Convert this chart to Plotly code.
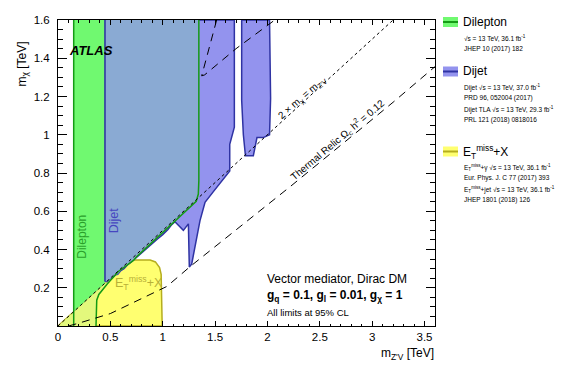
import plotly.graph_objects as go

# ---- values ----
# dilepton exclusion contour (green line), bottom to top
dilep_x = [0.363, 0.365, 0.37, 0.39, 0.47, 0.576, 0.65, 0.72, 0.75, 0.85, 1.0, 1.1, 1.2, 1.32, 1.34, 1.345, 1.345]
dilep_y = [0.0, 0.10, 0.135, 0.165, 0.22, 0.285, 0.315, 0.343, 0.362, 0.413, 0.488, 0.538, 0.588, 0.652, 0.69, 0.76, 1.6]
dilep_left = 0.15

# dijet exclusion: jagged lower edge near the diagonal, then the spike
dijet_jag_x = [0.45, 0.47, 0.49, 0.52, 0.55, 0.57, 0.60, 0.63, 0.66, 0.70, 0.72, 0.75, 0.80, 0.85, 0.90, 0.95, 1.0, 1.05, 1.086]
dijet_jag_y = [0.235, 0.232, 0.245, 0.252, 0.268, 0.27, 0.29, 0.30, 0.318, 0.335, 0.345, 0.355, 0.38, 0.405, 0.432, 0.455, 0.478, 0.505, 0.53]
dijet_spike_x = [1.117, 1.197, 1.245, 1.254, 1.277, 1.356, 1.404, 1.48, 1.64, 1.64, 1.684, 1.684]
dijet_spike_y = [0.545, 0.50, 0.534, 0.308, 0.325, 0.551, 0.647, 0.70, 0.81, 0.95, 1.04, 1.6]
dijet_left = 0.45

# second dijet island (TLA)
tla_x = [1.754, 1.754, 1.77, 1.79, 1.865, 1.90, 1.96, 2.02, 2.03, 2.02]
tla_y = [1.6, 1.18, 1.0, 0.89, 0.89, 0.985, 0.985, 1.0, 1.19, 1.6]

# E_T^miss + X exclusion
met_x = [0.0, 0.66, 0.69, 0.72, 0.88, 0.93, 0.97, 0.985, 0.99, 0.995]
met_y = [0.0, 0.33, 0.34, 0.345, 0.345, 0.335, 0.305, 0.27, 0.15, 0.0]

# thermal relic lines
relic_x = [0.10, 0.2, 0.5, 0.75, 1.04, 1.26, 1.74, 2.22, 2.8, 3.2, 3.6]
relic_y = [0.0, 0.015, 0.065, 0.13, 0.207, 0.31, 0.52, 0.73, 0.99, 1.17, 1.356]
relic2_x = [1.515, 1.44, 1.372, 1.40, 1.5, 1.7, 2.07]
relic2_y = [1.6, 1.45, 1.308, 1.313, 1.36, 1.45, 1.6]

# 2 m_chi = m_Z'
diag_x = [0.0, 3.2]
diag_y = [0.0, 1.6]

x_range = [0, 3.6]
y_range = [0, 1.6]
y_tickvals = [0.2, 0.4, 0.6, 0.8, 1.0, 1.2, 1.4, 1.6]
y_ticktext = ["0.2", "0.4", "0.6", "0.8", "1", "1.2", "1.4", "1.6"]

# ---- colours ----
GREEN_FILL = "#70f970"
GREEN_LINE = "#149b14"
LIME_FILL = "#e3f87c"
STEEL_FILL = "#8aaad3"
PURPLE_FILL = "#9393ee"
BLUE_LINE = "#2f33a3"
YELLOW_FILL = "#ffff70"
OLIVE_LINE = "#b5ad1e"
FONT = "Liberation Sans, Arial, sans-serif"

W, H = 581, 371
L, R, T, B = 58, 146, 20, 45


def px(x):
    return (x - L) / (W - L - R)


def py(y):
    return (H - B - y) / (H - T - B)


def poly(xs, ys, fill, line_color=None, width=0):
    return go.Scatter(x=list(xs) + [xs[0]], y=list(ys) + [ys[0]], mode="lines",
                      fill="toself", fillcolor=fill,
                      line=dict(color=line_color or fill, width=width),
                      hoverinfo="skip", showlegend=False)


fig = go.Figure()

# yellow E_T^miss region
fig.add_trace(poly(met_x, met_y, YELLOW_FILL, OLIVE_LINE, 1.5))

# pale lime: dilepton reach below the diagonal
n_low = dilep_x.index(0.576) + 1
lime_x = [0.0] + dilep_x[:n_low]
lime_y = [0.0] + dilep_y[:n_low]
fig.add_trace(poly(lime_x, lime_y, LIME_FILL))

# green band
fig.add_trace(poly([dilep_left, dilep_left, dijet_left, dijet_left],
                   [dilep_left / 2, 1.6, 1.6, dijet_left / 2], GREEN_FILL))

# dijet main region
dj_x = [dijet_left] + dijet_jag_x + dijet_spike_x
dj_y = [1.6] + dijet_jag_y + dijet_spike_y
fig.add_trace(poly(dj_x, dj_y, PURPLE_FILL, BLUE_LINE, 1.5))

# dijet TLA island
fig.add_trace(poly(tla_x, tla_y, PURPLE_FILL, BLUE_LINE, 1.5))

# overlap dilepton + dijet
st_x = [dijet_left] + [x for x in dijet_jag_x if x <= 0.6] + [x for x in dilep_x if x >= 0.65]
st_y = [1.6] + [y for x, y in zip(dijet_jag_x, dijet_jag_y) if x <= 0.6] + \
       [y for x, y in zip(dilep_x, dilep_y) if x >= 0.65]
fig.add_trace(poly(st_x, st_y, STEEL_FILL))

# contour lines
fig.add_trace(go.Scatter(x=[dilep_left, dilep_left], y=[0, 1.6], mode="lines",
                         line=dict(color=GREEN_LINE, width=1.5), hoverinfo="skip", showlegend=False))
fig.add_trace(go.Scatter(x=dilep_x, y=dilep_y, mode="lines",
                         line=dict(color=GREEN_LINE, width=1.5), hoverinfo="skip", showlegend=False))
fig.add_trace(go.Scatter(x=[dijet_left, dijet_left], y=[dijet_jag_y[0], 1.6], mode="lines",
                         line=dict(color=BLUE_LINE, width=1.2), hoverinfo="skip", showlegend=False))
fig.add_trace(go.Scatter(x=diag_x, y=diag_y, mode="lines",
                         line=dict(color="black", width=1, dash="dot"), hoverinfo="skip", showlegend=False))
fig.add_trace(go.Scatter(x=relic_x, y=relic_y, mode="lines",
                         line=dict(color="black", width=1, dash="8px,6px"), hoverinfo="skip", showlegend=False))
fig.add_trace(go.Scatter(x=relic2_x, y=relic2_y, mode="lines",
                         line=dict(color="black", width=1, dash="8px,6px"), hoverinfo="skip", showlegend=False))

ann = []
# in-plot labels
ann.append(dict(x=0.083, y=1.438, text="<b><i>ATLAS</i></b>", xanchor="left", yanchor="middle",
                showarrow=False, font=dict(size=13, color="black")))
ann.append(dict(x=0.226, y=0.465, text="Dilepton", textangle=-90, showarrow=False,
                font=dict(size=12, color="#2a9f2a")))
ann.append(dict(x=0.53, y=0.55, text="Dijet", textangle=-90, showarrow=False,
                font=dict(size=12.5, color="#4646c0")))
ann.append(dict(x=0.77, y=0.225, text="E<sub>T</sub><sup>miss</sup>+X", showarrow=False,
                font=dict(size=12.5, color="#b8b038")))
ann.append(dict(x=2.33, y=1.19, text="2 × m<sub>χ</sub> = m<sub>Z'V</sub>", textangle=-41,
                showarrow=False, font=dict(size=10, color="black")))
ann.append(dict(x=2.67, y=0.975, text="Thermal Relic Ω<sub>c</sub> h<sup>2</sup> = 0.12", textangle=-40,
                showarrow=False, font=dict(size=10, color="black")))

# info box (paper coords from pixel positions)
ann.append(dict(xref="paper", yref="paper", x=px(265), y=py(279), xanchor="left", yanchor="middle",
                text="Vector mediator, Dirac DM", showarrow=False, font=dict(size=12)))
ann.append(dict(xref="paper", yref="paper", x=px(265), y=py(296), xanchor="left", yanchor="middle",
                text="<b>g<sub>q</sub> = 0.1, g<sub>l</sub> = 0.01, g<sub>χ</sub> = 1</b>",
                showarrow=False, font=dict(size=12)))
ann.append(dict(xref="paper", yref="paper", x=px(265), y=py(312), xanchor="left", yanchor="middle",
                text="All limits at 95% CL", showarrow=False, font=dict(size=9.5)))

# axis titles
ann.append(dict(xref="paper", yref="paper", x=px(12), y=py(40), textangle=-90,
                text="m<sub>χ</sub> [TeV]", showarrow=False, font=dict(size=12)))
ann.append(dict(xref="paper", yref="paper", x=px(436), y=py(354), xanchor="right", yanchor="middle",
                text="m<sub>Z'V</sub> [TeV]", showarrow=False, font=dict(size=12)))

# legend
legend_items = [
    ("Dilepton", GREEN_FILL, GREEN_LINE, 22,
     ["√s = 13 TeV, 36.1 fb<sup>-1</sup>", "JHEP 10 (2017) 182"]),
    ("Dijet", PURPLE_FILL, BLUE_LINE, 71.5,
     ["Dijet √s = 13 TeV, 37.0 fb<sup>-1</sup>", "PRD 96, 052004 (2017)",
      "Dijet TLA √s = 13 TeV, 29.3 fb<sup>-1</sup>", "PRL 121 (2018) 0818016"]),
    ("E<sub>T</sub><sup>miss</sup>+X", YELLOW_FILL, OLIVE_LINE, 151.5,
     ["E<sub>T</sub><sup>miss</sup>+γ √s = 13 TeV, 36.1 fb<sup>-1</sup>", "Eur. Phys. J. C 77 (2017) 393",
      "E<sub>T</sub><sup>miss</sup>+jet √s = 13 TeV, 36.1 fb<sup>-1</sup>", "JHEP 1801 (2018) 126"]),
]
shapes = []
for name, fill, lc, yc, lines in legend_items:
    shapes.append(dict(type="rect", xref="paper", yref="paper", x0=px(443), x1=px(458),
                       y0=py(yc - 5), y1=py(yc + 5), fillcolor=fill, line=dict(width=0), layer="above"))
    shapes.append(dict(type="line", xref="paper", yref="paper", x0=px(443), x1=px(458),
                       y0=py(yc), y1=py(yc), line=dict(color=lc, width=2), layer="above"))
    ann.append(dict(xref="paper", yref="paper", x=px(461), y=py(yc), xanchor="left", yanchor="middle",
                    text=name, showarrow=False, font=dict(size=12)))
    for i, s in enumerate(lines):
        ann.append(dict(xref="paper", yref="paper", x=px(462), y=py(yc + 16 + i * 10.8),
                        xanchor="left", yanchor="middle", text=s, showarrow=False, font=dict(size=6.5)))

axis_common = dict(showgrid=False, zeroline=False, showline=True, linecolor="black", linewidth=1,
                   mirror="allticks", ticks="inside", tickcolor="black", automargin=False,
                   tickfont=dict(size=11.5, color="black"))

fig.update_layout(
    width=W, height=H,
    margin=dict(l=L, r=R, t=T, b=B, autoexpand=False),
    paper_bgcolor="white", plot_bgcolor="white",
    font=dict(family=FONT, color="black"),
    showlegend=False,
    annotations=ann,
    shapes=shapes,
    xaxis=dict(range=x_range, dtick=0.5, ticklen=5,
               minor=dict(dtick=0.1, ticks="inside", ticklen=2.5, tickcolor="black"),
               **axis_common),
    yaxis=dict(range=y_range, tickvals=y_tickvals, ticktext=y_ticktext, ticklen=9,
               ticklabelstandoff=5,
               minor=dict(tickvals=[i * 0.05 for i in range(33)], ticks="inside", ticklen=5,
                          tickcolor="black"),
               **axis_common),
)

# page has a default body margin; drop it so the figure sits at the window corner
fig.write_html("out.html", config={"displayModeBar": False},
               post_script="document.body.style.margin='0px';")
